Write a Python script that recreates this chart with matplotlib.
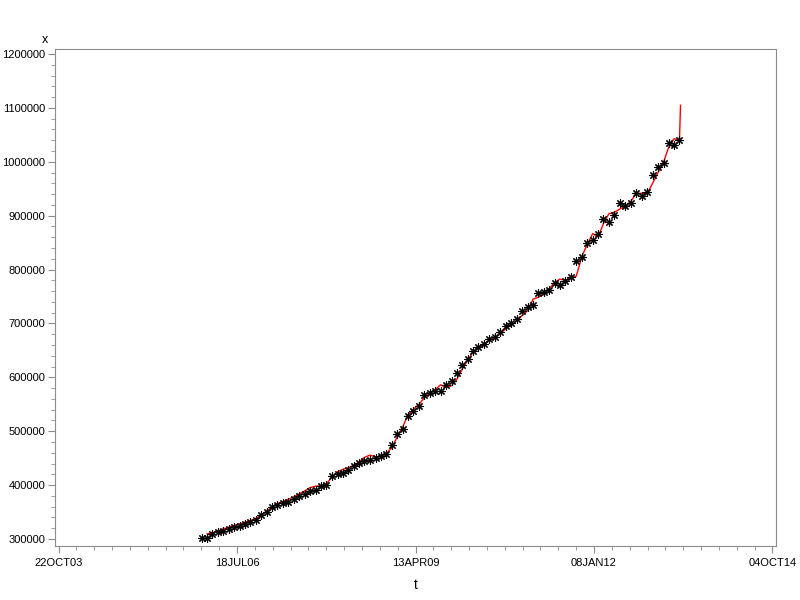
import datetime as dt
import matplotlib
matplotlib.use('Agg')
import matplotlib.pyplot as plt
import matplotlib.dates as mdates
import matplotlib.ticker as mticker
import numpy as np
import pandas as pd

# monthly observations, Jan 2006 .. May 2013
obs_dates = pd.date_range('2006-01-01', periods=89, freq='MS')
obs_x = [301000, 302400, 309300, 312100, 314900, 318600, 321700, 324700, 328400, 331600,
         334400, 343700, 350600, 358900, 363900, 367300, 367800, 374300, 379900, 384200,
         389200, 390700, 398500, 400400, 417100, 420300, 423200, 427700, 434800, 440700,
         444000, 446300, 450600, 453300, 457400, 474200, 494600, 505000, 528600, 537900,
         545900, 567700, 570800, 573800, 573800, 586200, 592400, 608000, 623400, 634000,
         649400, 655600, 661900, 671200, 674200, 684800, 695900, 700200, 708400, 723800,
         731200, 734400, 756000, 757800, 762300, 774900, 772100, 779600, 785700, 816700,
         822900, 848900, 855200, 866300, 894200, 887900, 900400, 923200, 918400, 923600,
         942200, 936200, 943700, 974700, 990100, 997600, 1035500, 1030500, 1041100]

# fitted series (red), starts one month later, ends with a spike
fit_x = [309900, 311200, 314900, 318600, 321700, 325100, 327900, 331200, 334400, 338100,
         344600, 352000, 359500, 366000, 369700, 373400, 378100, 383600, 389200, 395400,
         398100, 398500, 402200, 415200, 424500, 429200, 432000, 436600, 443100, 451500,
         455600, 452400, 453300, 458900, 469100, 489600, 508200, 530500, 540700, 549100,
         562100, 571400, 576900, 586200, 581600, 584400, 596500, 616000, 632700, 646700,
         654100, 661500, 668900, 674000, 680500, 690300, 696800, 704600, 714500, 723800,
         745200, 748500, 753500, 763700, 775800, 782300, 780100, 784200, 787900, 824100,
         846500, 866900, 860400, 885500, 903700, 906300, 912400, 917500, 926400, 941300,
         941300, 940700, 959800, 980300, 999400, 1026700, 1042900, 1039800, 1105000]
fit_dates = list(obs_dates[1:]) + [obs_dates[-1] + pd.Timedelta(days=6)]

x_ticks_start = dt.date(2003, 10, 22)

plt.rcParams['font.family'] = ['Liberation Sans', 'DejaVu Sans']
fig = plt.figure(figsize=(8, 6), dpi=100)
ax = fig.add_axes([0.06875, 0.09, 0.90125, 0.8283])

ax.plot(fit_dates, fit_x, color='red', lw=1.0, zorder=2)
ax.plot(obs_dates, obs_x, linestyle='none', marker=(8, 2, 0), markersize=6,
        markeredgewidth=0.8, color='black', zorder=3)

major = [x_ticks_start + dt.timedelta(days=1000 * i) for i in range(5)]
minor = [x_ticks_start + dt.timedelta(days=100 * i) for i in range(41)]
ax.set_xticks(major)
ax.set_xticks(minor, minor=True)
ax.xaxis.set_major_formatter(mticker.FuncFormatter(
    lambda v, p: mdates.num2date(v).strftime('%d%b%y').upper()))
ax.set_xlim(x_ticks_start - dt.timedelta(days=20), x_ticks_start + dt.timedelta(days=4020))

ax.set_yticks(np.arange(300000, 1200001, 100000))
ax.yaxis.set_minor_locator(mticker.MultipleLocator(20000))
ax.yaxis.set_major_formatter(mticker.FuncFormatter(lambda v, p: '%d' % v))
ax.set_ylim(287000, 1209300)

for s in ax.spines.values():
    s.set_color('#8c8c8c')
ax.tick_params(which='major', length=5, color='#8c8c8c', labelsize=8, pad=2)
ax.tick_params(which='minor', length=3, color='#8c8c8c')
ax.tick_params(axis='x', which='major', pad=4)

ax.set_xlabel('t', fontsize=10, labelpad=7)
fig.text(45 / 800, 1 - 40 / 600, 'x', fontsize=9, ha='center', va='center')

fig.savefig('out.png', dpi=100)
